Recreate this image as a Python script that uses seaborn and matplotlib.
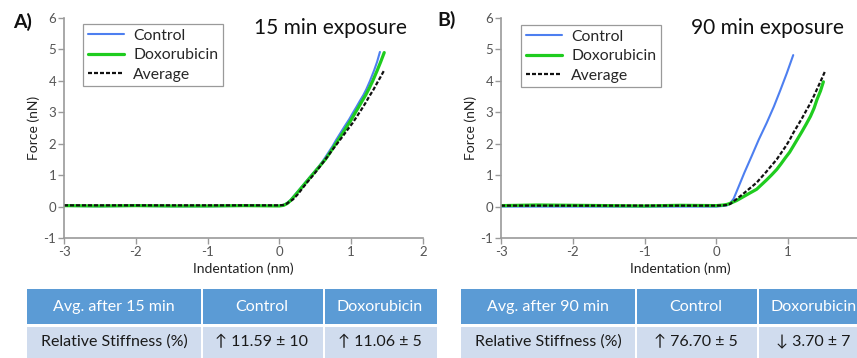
import matplotlib
matplotlib.use("Agg")
import matplotlib.pyplot as plt
import seaborn as sns
import pandas as pd
from matplotlib.patches import Rectangle

# ---- force-indentation curves (indentation in nm, force in nN) ----
ctrl_a_x = [-3.0, -2.5, -2.0, -1.5, -1.0, -0.5, 0.0, 0.05, 0.10, 0.15, 0.21, 0.28, 0.35, 0.42, 0.49,
            0.56, 0.62, 0.68, 0.74, 0.79, 0.85, 0.91, 0.97, 1.02, 1.07, 1.12, 1.17, 1.21, 1.26, 1.32, 1.36, 1.40]
ctrl_a_y = [0.02, 0.01, 0.02, 0.01, 0.01, 0.02, 0.02, 0.04, 0.10, 0.20, 0.36, 0.55, 0.74, 0.93, 1.12,
            1.31, 1.50, 1.71, 1.92, 2.12, 2.34, 2.56, 2.77, 2.97, 3.16, 3.36, 3.55, 3.73, 3.99, 4.34, 4.60, 4.92]
dox_a_x = [-3.0, -2.5, -2.0, -1.5, -1.0, -0.5, 0.0, 0.06, 0.11, 0.16, 0.22, 0.29, 0.36, 0.43, 0.50,
           0.57, 0.64, 0.70, 0.76, 0.82, 0.88, 0.94, 1.00, 1.05, 1.10, 1.15, 1.20, 1.25, 1.30, 1.36, 1.41, 1.46]
dox_a_y = [0.03, 0.02, 0.03, 0.02, 0.02, 0.03, 0.02, 0.04, 0.10, 0.20, 0.36, 0.55, 0.74, 0.93, 1.12,
           1.31, 1.50, 1.70, 1.91, 2.12, 2.33, 2.55, 2.76, 2.96, 3.15, 3.35, 3.54, 3.76, 4.00, 4.32, 4.60, 4.90]
avg_a_x = [-3.0, -1.5, 0.0, 0.05, 0.10, 0.19, 0.26, 0.32, 0.39, 0.46, 0.53, 0.60, 0.67, 0.74, 0.81,
           0.88, 0.95, 1.02, 1.08, 1.14, 1.20, 1.25, 1.31, 1.36, 1.41, 1.46]
avg_a_y = [0.04, 0.04, 0.04, 0.05, 0.09, 0.23, 0.40, 0.58, 0.78, 0.97, 1.17, 1.38, 1.59, 1.81, 2.02,
           2.23, 2.45, 2.66, 2.87, 3.08, 3.30, 3.50, 3.72, 3.93, 4.13, 4.34]

ctrl_b_x = [-3.0, -2.0, -1.0, 0.0, 0.10, 0.15, 0.19, 0.24, 0.30, 0.39, 0.49, 0.59, 0.70, 0.80, 0.89, 0.98, 1.07]
ctrl_b_y = [0.00, 0.00, 0.00, 0.00, 0.02, 0.04, 0.10, 0.25, 0.58, 1.08, 1.60, 2.13, 2.66, 3.18, 3.70, 4.24, 4.82]
dox_b_x = [-3.0, -2.5, -2.0, -1.5, -1.0, -0.5, 0.0, 0.10, 0.15, 0.20, 0.28, 0.35, 0.45, 0.56, 0.63,
           0.70, 0.77, 0.84, 0.90, 0.96, 1.02, 1.07, 1.13, 1.19, 1.25, 1.31, 1.36, 1.40, 1.45, 1.49]
dox_b_y = [0.03, 0.05, 0.04, 0.03, 0.02, 0.04, 0.03, 0.05, 0.07, 0.11, 0.19, 0.28, 0.41, 0.55, 0.70,
           0.85, 1.01, 1.18, 1.36, 1.55, 1.73, 1.92, 2.15, 2.38, 2.62, 2.87, 3.13, 3.40, 3.68, 3.97]
avg_b_x = [-3.0, -1.5, 0.0, 0.10, 0.15, 0.19, 0.27, 0.36, 0.46, 0.56, 0.63, 0.70, 0.77, 0.84, 0.90,
           0.96, 1.02, 1.07, 1.13, 1.19, 1.25, 1.31, 1.36, 1.41, 1.46, 1.51]
avg_b_y = [0.03, 0.03, 0.03, 0.04, 0.05, 0.08, 0.22, 0.38, 0.57, 0.76, 0.94, 1.12, 1.31, 1.50, 1.70,
           1.90, 2.12, 2.34, 2.57, 2.80, 3.05, 3.29, 3.53, 3.78, 4.03, 4.29]

series_names = ["Control", "Doxorubicin", "Average"]
panel_letters = ["A)", "B)"]
panel_titles = ["15 min exposure", "90 min exposure"]
x_ticks = [[-3, -2, -1, 0, 1, 2], [-3, -2, -1, 0, 1]]
y_ticks = [-1, 0, 1, 2, 3, 4, 5, 6]

# ---- summary tables ----
table_headers = [["Avg. after 15 min", "Control", "Doxorubicin"],
                 ["Avg. after 90 min", "Control", "Doxorubicin"]]
table_rows = [["Relative Stiffness (%)", "\u2191 11.59 \u00b1 10", "\u2191 11.06 \u00b1 5"],
              ["Relative Stiffness (%)", "\u2191 76.70 \u00b1 5", "\u2193 3.70 \u00b1 7"]]

sns.set_theme(style="white")
plt.rcParams["font.family"] = ["Lato", "DejaVu Sans"]
plt.rcParams["axes.unicode_minus"] = False

W, H = 857, 358
fig = plt.figure(figsize=(W / 100, H / 100), dpi=100)

colors = {"Control": "#4d7ff0", "Doxorubicin": "#1fcc1f", "Average": "#111111"}
widths = {"Control": 1.5, "Doxorubicin": 2.3, "Average": 1.6}

panels = [
    (ctrl_a_x, ctrl_a_y, dox_a_x, dox_a_y, avg_a_x, avg_a_y),
    (ctrl_b_x, ctrl_b_y, dox_b_x, dox_b_y, avg_b_x, avg_b_y),
]
ax_left_px = [64, 501]
legend_anchor = [(0.053, 0.973), (0.056, 0.968)]
letter_pos = [(23, 22), (447, 20)]

spine_col = "#9a9a9a"
tick_col = "#555555"

for i, data in enumerate(panels):
    left = ax_left_px[i] / W
    ax = fig.add_axes([left, 120 / H, 359 / W, 220 / H])
    frames = []
    for name, xs, ys in zip(series_names, data[0::2], data[1::2]):
        frames.append(pd.DataFrame({"Indentation": xs, "Force": ys, "Series": name}))
    df = pd.concat(frames, ignore_index=True)
    for name in series_names:
        sub = df[df["Series"] == name]
        line_kw = dict(dashes=(1.8, 0.9)) if name == "Average" else {}
        sns.lineplot(data=sub, x="Indentation", y="Force", ax=ax, color=colors[name],
                     lw=widths[name], estimator=None, sort=False, label=name,
                     **line_kw)

    ax.set_xlim(-3, 2)
    ax.set_ylim(-1, 6)
    ax.set_xticks(x_ticks[i])
    ax.set_yticks(y_ticks)
    sns.despine(ax=ax)
    for s in ("left", "bottom"):
        ax.spines[s].set_color(spine_col)
        ax.spines[s].set_linewidth(1.2)
    ax.tick_params(direction="out", length=4, width=1, color=spine_col,
                   labelcolor=tick_col, labelsize=9.5, pad=1.5,
                   bottom=True, left=True)
    ax.set_xlabel("Indentation (nm)", fontsize=10, color="#222222")
    ax.set_ylabel("Force (nN)", fontsize=10, color="#222222")
    ax.xaxis.set_label_coords(0.5, -0.112)
    ax.yaxis.set_label_coords(-0.067, 0.5)

    leg = ax.legend(loc="upper left", bbox_to_anchor=legend_anchor[i], borderaxespad=0,
                    fontsize=11.3, frameon=True, fancybox=False, framealpha=1,
                    edgecolor="#9a9a9a", handlelength=2.3, handletextpad=0.6,
                    labelspacing=0.35, borderpad=0.3)
    leg.get_frame().set_linewidth(0.9)

    ax.text(0.741, 0.955, panel_titles[i], transform=ax.transAxes, ha="center",
            va="center", fontsize=15, color="#111111")
    fig.text(letter_pos[i][0] / W, 1 - letter_pos[i][1] / H, panel_letters[i],
             ha="center", va="center", fontsize=14, fontweight="bold", color="#111111")

# ---- tables drawn in figure pixel space ----
tab = fig.add_axes([0, 0, 1, 1], zorder=-1)
tab.set_xlim(0, W)
tab.set_ylim(H, 0)
tab.axis("off")

col_edges = [[27, 201, 323, 437], [461, 635, 757, 870]]
head_top, head_bot = 289, 324
row_top, row_bot = 327, 362
gap = 2
for t in range(2):
    edges = col_edges[t]
    for c in range(3):
        x0 = edges[c] + (gap if c > 0 else 0)
        x1 = edges[c + 1]
        tab.add_patch(Rectangle((x0, head_top), x1 - x0, head_bot - head_top,
                                facecolor="#5b9bd5", edgecolor="none"))
        tab.add_patch(Rectangle((x0, row_top), x1 - x0, row_bot - row_top,
                                facecolor="#d0dcee", edgecolor="none"))
        xc = (edges[c] + edges[c + 1]) / 2
        tab.text(xc, (head_top + head_bot) / 2 + 0.5, table_headers[t][c], ha="center",
                 va="center", fontsize=11.5, color="white")
        tab.text(xc, 342, table_rows[t][c], ha="center", va="center",
                 fontsize=11.5, color="#1a1a1a")

fig.savefig("out.png", dpi=100)
